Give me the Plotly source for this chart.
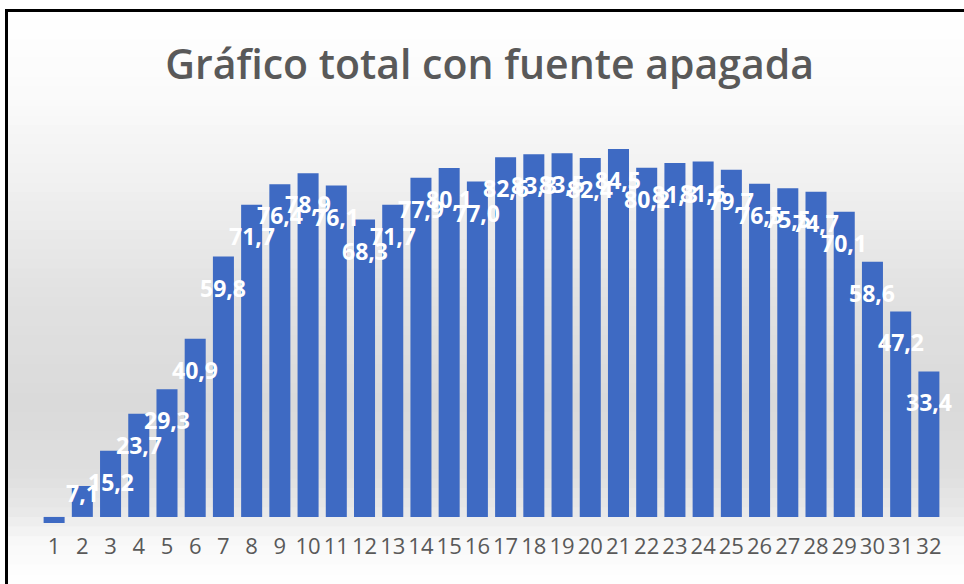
import plotly.graph_objects as go

# ---- data ----
categories = [str(i) for i in range(1, 33)]
values = [-1.4, 7.1, 15.2, 23.7, 29.3, 40.9, 59.8, 71.7, 76.4, 78.9, 76.1, 68.3,
          71.7, 77.9, 80.1, 77.0, 82.6, 83.3, 83.5, 82.4, 84.5, 80.2, 81.3, 81.6,
          79.7, 76.5, 75.5, 74.7, 70.1, 58.6, 47.2, 33.4]
labels = [f"{v:.1f}".replace(".", ",") for v in values]
title_text = "Gráfico total con fuente apagada"

W, H = 964, 584
ML, MR, MT, MB = 40, 21, 125, 54
plot_h = H - MT - MB
plot_w = W - ML - MR

fig = go.Figure()
fig.add_trace(go.Bar(
    x=categories, y=values,
    marker=dict(color="#3e6ac3", line=dict(width=0)),
    hoverinfo="x+y",
))

# data labels (category axis: position = category index)
annotations = []
for idx, (v, t) in enumerate(zip(values, labels)):
    if v < 0:
        continue
    annotations.append(dict(
        x=idx, y=v, xref="x", yref="y", text=t, showarrow=False,
        yanchor="middle", xanchor="center",
        yshift=-31 if v > 10 else -7,
        font=dict(family="Open Sans", size=23, color="white", weight="bold"),
    ))

# background gradient (styling only)
def px_to_py(p):
    return (H - MB - p) / plot_h

def px_to_px(p):
    return (p - ML) / plot_w

stops = [(10, 255), (100, 250), (200, 238), (300, 225), (400, 218),
         (470, 222), (510, 232), (540, 248), (584, 255)]
shapes = []
n = 60
for i in range(n):
    y0 = 10 + (H - 10) * i / n
    y1 = 10 + (H - 10) * (i + 1) / n
    ym = (y0 + y1) / 2
    for (a, ga), (b, gb) in zip(stops[:-1], stops[1:]):
        if a <= ym <= b:
            g = ga + (gb - ga) * (ym - a) / (b - a)
            break
    g = int(round(g))
    shapes.append(dict(type="rect", xref="paper", yref="paper", layer="below",
                       x0=px_to_px(7), x1=px_to_px(W + 2), y0=px_to_py(y1 + 1.5), y1=px_to_py(y0),
                       fillcolor=f"rgb({g},{g},{g})", line=dict(width=0)))
# frame lines (top and left)
shapes.append(dict(type="line", xref="paper", yref="paper", layer="above",
                   x0=px_to_px(5.5), x1=px_to_px(W + 2), y0=px_to_py(10.5), y1=px_to_py(10.5),
                   line=dict(color="black", width=3)))
shapes.append(dict(type="line", xref="paper", yref="paper", layer="above",
                   x0=px_to_px(6.5), x1=px_to_px(6.5), y0=px_to_py(9), y1=px_to_py(H + 2),
                   line=dict(color="black", width=3)))

fig.update_layout(
    width=W, height=H,
    margin=dict(l=ML, r=MR, t=MT, b=MB, pad=0, autoexpand=False),
    paper_bgcolor="white",
    plot_bgcolor="rgba(0,0,0,0)",
    showlegend=False,
    bargap=0.255,
    title=dict(text=title_text, x=0.508, xanchor="center", y=1 - 65 / H, yanchor="middle",
               font=dict(family="Open Sans", size=41, color="#595959", weight=600)),
    xaxis=dict(type="category", range=[-0.5, len(categories) - 0.5], autorange=False,
               showgrid=False, showline=False, zeroline=False, ticks="",
               tickangle=0, automargin=False,
               tickfont=dict(family="Open Sans", size=22, color="#595959"),
               ticklabelstandoff=1),
    yaxis=dict(range=[-3, 90], showgrid=False, showline=False, zeroline=False,
               showticklabels=False, ticks="", automargin=False),
    annotations=annotations,
    shapes=shapes,
)

fig.write_html(
    "out.html",
    config={"responsive": False, "displayModeBar": False},
    post_script="document.body.style.margin='0';document.body.style.overflow='hidden';",
)
